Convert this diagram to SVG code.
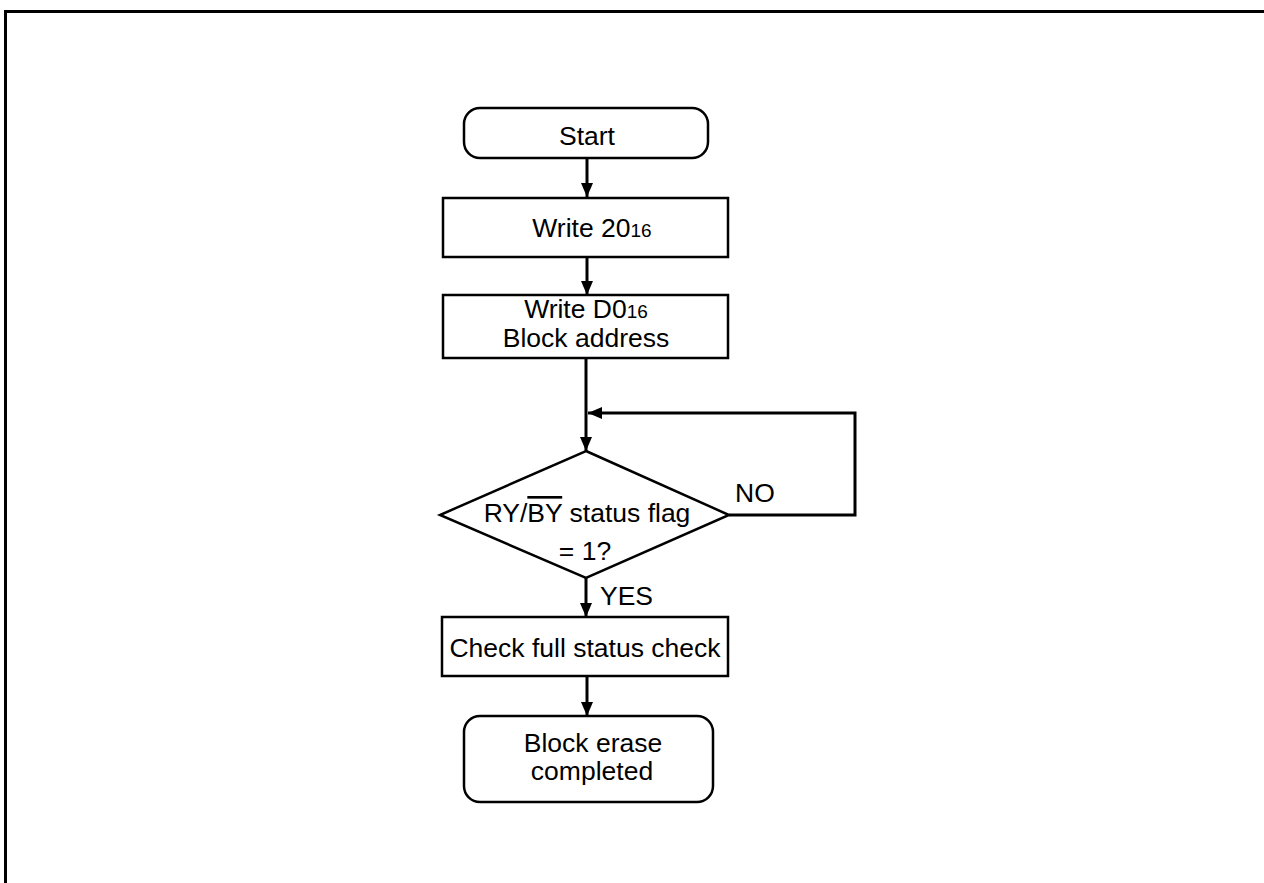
<svg xmlns="http://www.w3.org/2000/svg" width="1264" height="883" viewBox="0 0 1264 883">
<style>
.s{fill:#fff;stroke:#000;stroke-width:2.5}
.t{font-family:"Liberation Sans",Arial,sans-serif;font-size:26.5px;fill:#000;text-anchor:middle}
.l{font-family:"Liberation Sans",Arial,sans-serif;font-size:26.5px;fill:#000}
.sub{font-size:19px}
.c{fill:none;stroke:#000;stroke-width:3}
</style>
<defs>
<marker id="ah" viewBox="0 0 14 12" refX="14" refY="6" markerWidth="14" markerHeight="12" markerUnits="userSpaceOnUse" orient="auto">
<path d="M0,0 L14,6 L0,12 Z" fill="#000"/>
</marker>
</defs>
<rect width="1264" height="883" fill="#fff"/>
<path d="M5.5,890 V11.5 H1270" fill="none" stroke="#000" stroke-width="3"/>
<g id="connectors">
<line class="c" x1="587" y1="158" x2="587" y2="197" marker-end="url(#ah)"/>
<line class="c" x1="587" y1="257" x2="587" y2="295" marker-end="url(#ah)"/>
<line class="c" x1="586" y1="358" x2="586" y2="451" marker-end="url(#ah)"/>
<polyline class="c" points="729,515 855,515 855,413 588,413" marker-end="url(#ah)"/>
<line class="c" x1="586" y1="578" x2="586" y2="617" marker-end="url(#ah)"/>
<line class="c" x1="587" y1="676" x2="587" y2="716" marker-end="url(#ah)"/>
</g>
<g id="start">
<rect class="s" x="464" y="108" width="244" height="50" rx="16"/>
<text class="t" x="587" y="145">Start</text>
</g>
<g id="write20">
<rect class="s" x="443" y="198" width="285" height="59"/>
<text class="t" x="592" y="237">Write 20<tspan class="sub">16</tspan></text>
</g>
<g id="writeD0">
<rect class="s" x="443" y="295" width="285" height="63"/>
<text class="t" x="586" y="318">Write D0<tspan class="sub">16</tspan></text>
<text class="t" x="586" y="347">Block address</text>
</g>
<g id="decision">
<polygon class="s" points="586,451 729,515 586,578 440,515"/>
<text class="t" x="587" y="522">RY/<tspan style="text-decoration:overline">BY</tspan> status flag</text>
<text class="t" x="585" y="560">= 1?</text>
<text class="l" x="735" y="502">NO</text>
<text class="l" x="600" y="605">YES</text>
</g>
<g id="check">
<rect class="s" x="442" y="617" width="286" height="59"/>
<text class="t" x="585" y="657">Check full status check</text>
</g>
<g id="end">
<rect class="s" x="464" y="716" width="249" height="86" rx="16"/>
<text class="t" x="593" y="752">Block erase</text>
<text class="t" x="592" y="780">completed</text>
</g>
</svg>
